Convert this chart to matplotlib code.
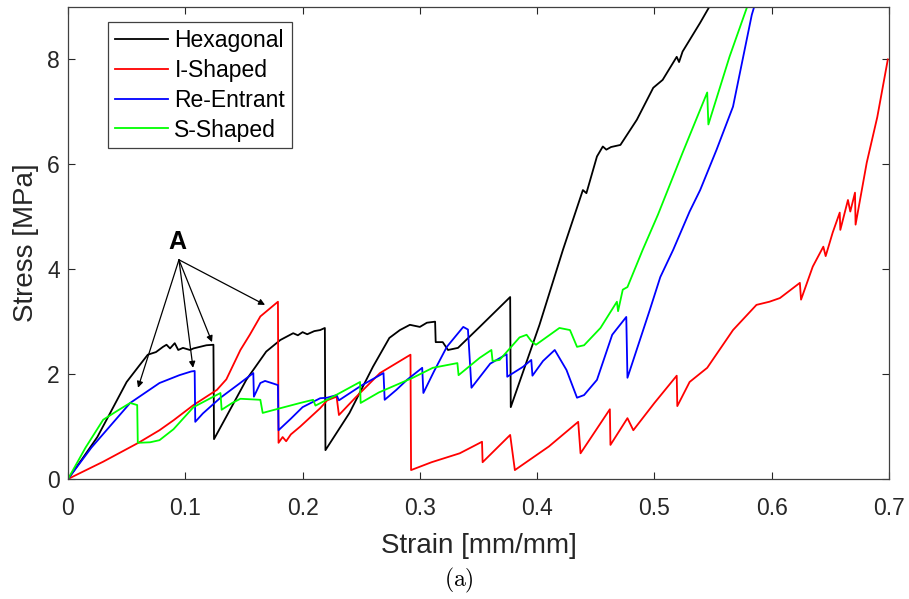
import matplotlib
matplotlib.use("Agg")
import matplotlib.pyplot as plt

plt.rcParams["font.family"] = ["Liberation Sans", "DejaVu Sans"]
plt.rcParams["mathtext.fontset"] = "cm"

# Hexagonal
hex_x = [0, 0.012, 0.025, 0.036, 0.05, 0.06, 0.068, 0.075, 0.081, 0.084, 0.087, 0.091,
         0.094, 0.098, 0.104, 0.107, 0.1125, 0.118, 0.124, 0.1245, 0.135, 0.152, 0.169,
         0.181, 0.192, 0.196, 0.2, 0.204, 0.21, 0.215, 0.219, 0.2195, 0.24, 0.26, 0.274,
         0.283, 0.2915, 0.3, 0.306, 0.313, 0.3135, 0.3195, 0.324, 0.3325, 0.351, 0.377,
         0.3775, 0.402, 0.422, 0.439, 0.442, 0.451, 0.456, 0.459, 0.463, 0.471, 0.485,
         0.499, 0.507, 0.519, 0.521, 0.524, 0.539, 0.548]
hex_y = [0, 0.38, 0.8, 1.26, 1.85, 2.14, 2.37, 2.42, 2.52, 2.56, 2.49, 2.59, 2.46, 2.5,
         2.46, 2.49, 2.52, 2.55, 2.56, 0.76, 1.19, 1.89, 2.43, 2.65, 2.78, 2.74, 2.8,
         2.76, 2.82, 2.84, 2.88, 0.55, 1.26, 2.14, 2.69, 2.84, 2.94, 2.9, 2.98, 3.0, 2.61,
         2.61, 2.46, 2.5, 2.9, 3.47, 1.37, 2.94, 4.37, 5.51, 5.45, 6.15, 6.34, 6.28, 6.33,
         6.37, 6.85, 7.46, 7.61, 8.05, 7.95, 8.15, 8.7, 9.05]

# I-Shaped
ish_x = [0, 0.03, 0.06, 0.078, 0.09, 0.107, 0.127, 0.135, 0.147, 0.155, 0.164, 0.179,
         0.1795, 0.183, 0.186, 0.19, 0.198, 0.215, 0.221, 0.229, 0.231, 0.245, 0.266,
         0.292, 0.2925, 0.31, 0.334, 0.353, 0.3535, 0.377, 0.381, 0.41, 0.435, 0.437,
         0.462, 0.4625, 0.477, 0.482, 0.5, 0.519, 0.5195, 0.53, 0.545, 0.567, 0.587,
         0.598, 0.607, 0.624, 0.625, 0.635, 0.644, 0.646, 0.652, 0.658, 0.6585, 0.665,
         0.667, 0.671, 0.6715, 0.681, 0.69, 0.699]
ish_y = [0, 0.33, 0.69, 0.93, 1.12, 1.41, 1.7, 1.9, 2.46, 2.75, 3.1, 3.38, 0.69, 0.8,
         0.72, 0.85, 1.0, 1.35, 1.5, 1.57, 1.22, 1.55, 2.02, 2.37, 0.17, 0.32, 0.49, 0.71,
         0.32, 0.84, 0.17, 0.62, 1.09, 0.49, 1.33, 0.65, 1.16, 0.93, 1.45, 1.97, 1.39,
         1.85, 2.12, 2.84, 3.32, 3.38, 3.45, 3.74, 3.42, 4.05, 4.43, 4.25, 4.7, 5.08, 4.75,
         5.32, 5.1, 5.46, 4.85, 6.03, 6.9, 8.0]

# Re-Entrant
ree_x = [0, 0.02, 0.053, 0.078, 0.095, 0.105, 0.108, 0.1085, 0.115, 0.13, 0.145, 0.158,
         0.1585, 0.164, 0.168, 0.175, 0.179, 0.1795, 0.19, 0.2, 0.215, 0.221, 0.229, 0.231,
         0.25, 0.269, 0.27, 0.28, 0.289, 0.302, 0.303, 0.312, 0.323, 0.337, 0.341, 0.344,
         0.36, 0.374, 0.3745, 0.388, 0.395, 0.396, 0.405, 0.415, 0.425, 0.434, 0.44, 0.451,
         0.464, 0.476, 0.477, 0.496, 0.505, 0.516, 0.53, 0.539, 0.553, 0.567, 0.583, 0.585]
ree_y = [0, 0.6, 1.45, 1.83, 1.98, 2.05, 2.06, 1.09, 1.25, 1.55, 1.8, 2.02, 1.57, 1.83,
         1.87, 1.82, 1.79, 0.93, 1.15, 1.37, 1.54, 1.55, 1.6, 1.5, 1.78, 2.02, 1.51, 1.7,
         1.89, 2.12, 1.64, 2.05, 2.52, 2.9, 2.85, 1.74, 2.2, 2.38, 1.95, 2.14, 2.27, 1.97,
         2.25, 2.46, 2.08, 1.55, 1.6, 1.89, 2.75, 3.09, 1.93, 3.22, 3.85, 4.37, 5.1, 5.51,
         6.28, 7.1, 8.85, 9.0]

# S-Shaped
ssh_x = [0, 0.015, 0.03, 0.042, 0.053, 0.059, 0.0595, 0.07, 0.078, 0.09, 0.107, 0.124,
         0.13, 0.131, 0.14, 0.147, 0.164, 0.166, 0.181, 0.198, 0.209, 0.211, 0.226, 0.249,
         0.2495, 0.265, 0.294, 0.311, 0.332, 0.333, 0.351, 0.361, 0.362, 0.368, 0.385,
         0.391, 0.395, 0.399, 0.419, 0.428, 0.434, 0.44, 0.454, 0.468, 0.469, 0.473, 0.477,
         0.49, 0.503, 0.524, 0.545, 0.546, 0.564, 0.579, 0.583]
ssh_y = [0, 0.6, 1.13, 1.3, 1.45, 1.41, 0.69, 0.7, 0.74, 0.95, 1.37, 1.57, 1.64, 1.32,
         1.45, 1.53, 1.51, 1.26, 1.35, 1.45, 1.51, 1.4, 1.57, 1.85, 1.45, 1.65, 1.93, 2.12,
         2.21, 1.98, 2.31, 2.46, 2.25, 2.27, 2.7, 2.75, 2.63, 2.56, 2.88, 2.84, 2.52, 2.55,
         2.88, 3.38, 3.2, 3.61, 3.66, 4.37, 5.04, 6.22, 7.37, 6.76, 8.05, 9.0, 9.1]

series = [("Hexagonal", hex_x, hex_y, "black"),
          ("I-Shaped", ish_x, ish_y, "#ff0000"),
          ("Re-Entrant", ree_x, ree_y, "#0000ff"),
          ("S-Shaped", ssh_x, ssh_y, "#00ff00")]

# annotation "A" and the points its arrows go to
a_label = (0.093, 4.52)
a_origin = (0.0946, 4.18)
a_tips = [(0.0597, 1.74), (0.1066, 2.12), (0.1228, 2.61), (0.168, 3.32)]

fig = plt.figure(figsize=(9.09, 5.99), dpi=100)
ax = fig.add_axes([68 / 909, 120 / 599, 821 / 909, 472 / 599])

for name, xs, ys, col in series:
    ax.plot(xs, ys, color=col, lw=1.3, label=name)

ax.text(a_label[0], a_label[1], "A", fontsize=18, fontweight="bold",
        ha="center", va="center")
for tip in a_tips:
    ax.annotate("", xy=tip, xytext=a_origin,
                arrowprops=dict(arrowstyle="-|>", color="k", lw=0.9,
                                mutation_scale=9, shrinkA=0, shrinkB=0))

ax.set_xlim(0, 0.7)
ax.set_ylim(0, 9)
ax.set_xticks([0, 0.1, 0.2, 0.3, 0.4, 0.5, 0.6, 0.7])
ax.set_xticklabels(["0", "0.1", "0.2", "0.3", "0.4", "0.5", "0.6", "0.7"])
ax.set_yticks([0, 2, 4, 6, 8])
ax.tick_params(direction="in", top=True, right=True, length=5, width=0.8,
               labelsize=16.5, colors="#262626")
ax.tick_params(axis="x", pad=13)
ax.tick_params(axis="y", pad=6)
for sp in ax.spines.values():
    sp.set_color("#404040")
    sp.set_linewidth(0.9)

ax.set_xlabel("Strain [mm/mm]", fontsize=20, color="#262626", labelpad=9)
ax.set_ylabel("Stress [MPa]", fontsize=20, color="#262626", labelpad=6)

leg = ax.legend(loc="upper left", bbox_to_anchor=(40 / 821, 457 / 472),
                borderaxespad=0, fontsize=16.5, frameon=True, fancybox=False,
                handlelength=2.3, handletextpad=0.3, labelspacing=0.3,
                borderpad=0.3)
leg.get_frame().set_edgecolor("#404040")
leg.get_frame().set_linewidth(0.9)
leg.get_frame().set_alpha(1)

fig.text(0.505, 1 - 580 / 599, r"$\mathrm{(a)}$", fontsize=17, ha="center", va="center")

fig.savefig("out.png", dpi=100)
